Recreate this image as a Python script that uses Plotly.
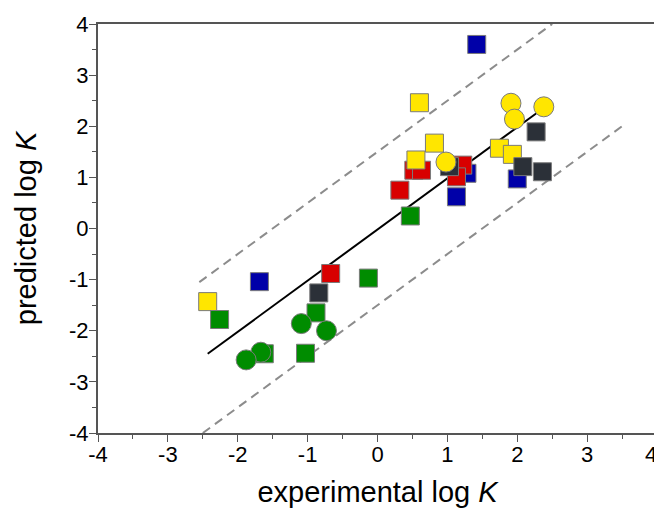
import plotly.graph_objects as go

# Square markers by group (experimental, predicted)
blue_x = [1.42, -1.69, 1.13, 1.28, 2.00]
blue_y = [3.60, -1.04, 0.62, 1.08, 0.97]

red_x = [0.32, 0.52, 0.63, 1.22, 1.13, -0.67]
red_y = [0.75, 1.14, 1.14, 1.24, 1.01, -0.88]

yellow_sq_x = [0.60, 0.815, 1.745, 1.93, 0.55, -2.43]
yellow_sq_y = [2.46, 1.67, 1.57, 1.45, 1.34, -1.43]

dark_x = [2.27, 2.08, 2.36, 1.03, -0.84]
dark_y = [1.89, 1.21, 1.11, 1.21, -1.26]

green_sq_x = [0.47, -0.13, -0.88, -2.26, -1.03, -1.62]
green_sq_y = [0.245, -0.97, -1.65, -1.78, -2.44, -2.45]

# Circle markers
green_ci_x = [-1.09, -0.73, -1.67, -1.88]
green_ci_y = [-1.86, -2.00, -2.42, -2.57]

yellow_ci_x = [1.91, 2.38, 1.96, 0.98]
yellow_ci_y = [2.45, 2.38, 2.14, 1.30]

# Fit line and +/-1.5 bands
fit_x = [-2.43, 2.27]
fit_y = [-2.45, 2.25]
upper_x = [-2.55, 2.50]
upper_y = [-1.05, 4.00]
lower_x = [-2.50, 3.50]
lower_y = [-4.00, 2.00]

tick_vals = [-4, -3, -2, -1, 0, 1, 2, 3, 4]
tick_text = ["-4", "-3", "-2", "-1", "0", "1", "2", "3", "4"]

FONT = "Liberation Sans, Arial, sans-serif"

fig = go.Figure()

dash_style = dict(color="#8c8c8c", width=2, dash="9px,6px")
fig.add_trace(go.Scatter(x=upper_x, y=upper_y, mode="lines", line=dash_style, cliponaxis=False))
fig.add_trace(go.Scatter(x=lower_x, y=lower_y, mode="lines", line=dash_style, cliponaxis=False))
fig.add_trace(go.Scatter(x=fit_x, y=fit_y, mode="lines", line=dict(color="black", width=2)))

outline = dict(color="#7a7a7a", width=1)

def sq(x, y, color):
    fig.add_trace(go.Scatter(x=x, y=y, mode="markers",
                             marker=dict(symbol="square", size=18, color=color, line=outline)))

def ci(x, y, color):
    fig.add_trace(go.Scatter(x=x, y=y, mode="markers",
                             marker=dict(symbol="circle", size=20, color=color, line=outline)))

sq(blue_x, blue_y, "#0000a8")
sq(red_x, red_y, "#d80000")
sq(yellow_sq_x, yellow_sq_y, "#ffe600")
sq(dark_x, dark_y, "#2b3038")
sq(green_sq_x, green_sq_y, "#008c00")
ci(green_ci_x, green_ci_y, "#008c00")
ci(yellow_ci_x, yellow_ci_y, "#ffe600")

axis_common = dict(
    range=[-4, 4],
    tickmode="array",
    tickvals=tick_vals,
    ticktext=tick_text,
    ticks="outside",
    ticklen=7,
    tickwidth=1.2,
    tickcolor="#555555",
    showline=True,
    linecolor="#555555",
    linewidth=2,
    mirror=True,
    showgrid=False,
    zeroline=False,
    automargin=False,
    tickfont=dict(family=FONT, size=22, color="black"),
    minor=dict(ticks="outside", ticklen=4, tickcolor="#555555", tickwidth=1.2,
               tickvals=[-3.5, -2.5, -1.5, -0.5, 0.5, 1.5, 2.5, 3.5]),
)

fig.update_layout(
    width=654,
    height=500,
    margin=dict(l=90, r=5, t=16, b=75),
    paper_bgcolor="white",
    plot_bgcolor="white",
    showlegend=False,
    xaxis=dict(axis_common, ticklabelstandoff=-6,
               title=dict(text="experimental log <i>K</i>", standoff=18,
                          font=dict(family=FONT, size=29, color="black"))),
    yaxis=dict(axis_common, ticklabelstandoff=-4,
               title=dict(text="predicted log <i>K</i>", standoff=24,
                          font=dict(family=FONT, size=29, color="black"))),
)

# Last x tick label sits at the figure's right edge (plotly hides it there)
fig.add_annotation(x=tick_vals[-1], xref="x", y=0, yref="paper", text=tick_text[-1],
                   showarrow=False, yanchor="top", xanchor="right", xshift=2, yshift=-7,
                   font=dict(family=FONT, size=22, color="black"))

fig.write_html("out.html")
